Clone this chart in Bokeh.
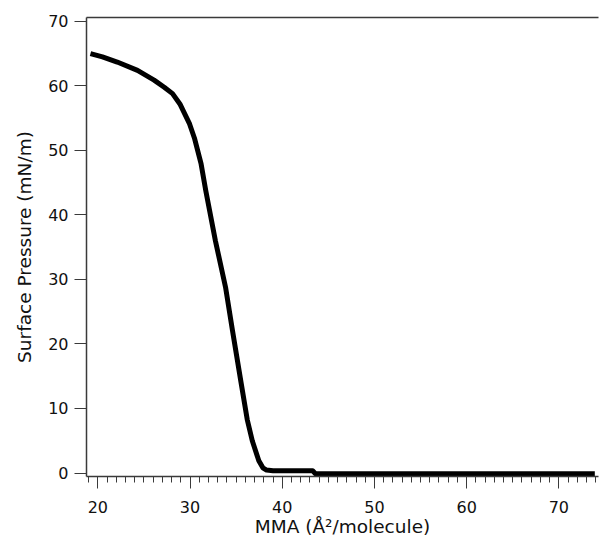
from bokeh.plotting import figure
from bokeh.models import LinearAxis, FixedTicker, Range1d
from bokeh.embed import file_html
from bokeh.resources import INLINE

mma = [19.2, 20.5, 22.1, 24.3, 26.1, 27.2, 28.1, 28.9, 29.95, 30.5, 31.2, 31.7,
       32.75, 33.85, 34.6, 35.5, 36.2, 36.75, 37.46, 37.9, 38.3, 39.0, 43.3, 43.6,
       55.0, 65.0, 73.9]
pressure = [65.0, 64.5, 63.7, 62.4, 60.9, 59.8, 58.8, 57.2, 54.1, 51.8, 47.9, 43.8,
            36.0, 28.8, 22.1, 14.3, 8.3, 5.0, 1.9, 0.8, 0.45, 0.35, 0.35, -0.1,
            -0.1, -0.1, -0.1]

x_ticks = [20, 30, 40, 50, 60, 70]
x_minor = [v for v in range(19, 75) if v % 10 != 0]
y_ticks = [0, 10, 20, 30, 40, 50, 60, 70]

FONT = "DejaVu Sans"
AX = "#3a3a3a"

p = figure(width=600, height=548, output_backend="svg", toolbar_location=None,
           x_range=Range1d(18.77, 74.3), y_range=Range1d(-0.54, 70.6),
           x_axis_label="MMA (Å²/molecule)", y_axis_label="Surface Pressure (mN/m)",
           min_border_left=86, min_border_right=2, min_border_top=17, min_border_bottom=72)
p.outline_line_color = None
p.grid.visible = False
p.background_fill_color = "white"
p.border_fill_color = "white"

p.line(mma, pressure, line_width=5, line_color="black", line_join="round")

xa = p.xaxis[0]
xa.ticker = FixedTicker(ticks=x_ticks, minor_ticks=x_minor)
xa.axis_line_color = AX
xa.axis_line_width = 1.5
xa.major_tick_line_color = AX
xa.minor_tick_line_color = AX
xa.major_tick_in = 0
xa.major_tick_out = 12
xa.minor_tick_in = 0
xa.minor_tick_out = 6
xa.major_label_standoff = 12
xa.major_label_text_font = FONT
xa.major_label_text_font_size = "16px"
xa.major_label_text_color = "#111111"
xa.axis_label_text_font = FONT
xa.axis_label_text_font_size = "18.5px"
xa.axis_label_text_font_style = "normal"
xa.axis_label_text_color = "#111111"
xa.axis_label_standoff = 0

ya = p.yaxis[0]
ya.ticker = FixedTicker(ticks=y_ticks, minor_ticks=[])
ya.axis_line_color = AX
ya.axis_line_width = 1.5
ya.major_tick_line_color = AX
ya.major_tick_in = 0
ya.major_tick_out = 12
ya.minor_tick_line_color = None
ya.major_label_standoff = 6
ya.major_label_text_font = FONT
ya.major_label_text_font_size = "16px"
ya.major_label_text_color = "#111111"
ya.axis_label_text_font = FONT
ya.axis_label_text_font_size = "18.5px"
ya.axis_label_text_font_style = "normal"
ya.axis_label_text_color = "#111111"
ya.axis_label_standoff = 10

top = LinearAxis(ticker=FixedTicker(ticks=[]), axis_line_color=AX, axis_line_width=1.5,
                 major_tick_line_color=None, minor_tick_line_color=None,
                 major_label_text_font_size="0px", major_label_standoff=0)
p.add_layout(top, "above")

open("out.html", "w").write(file_html(p, INLINE))
